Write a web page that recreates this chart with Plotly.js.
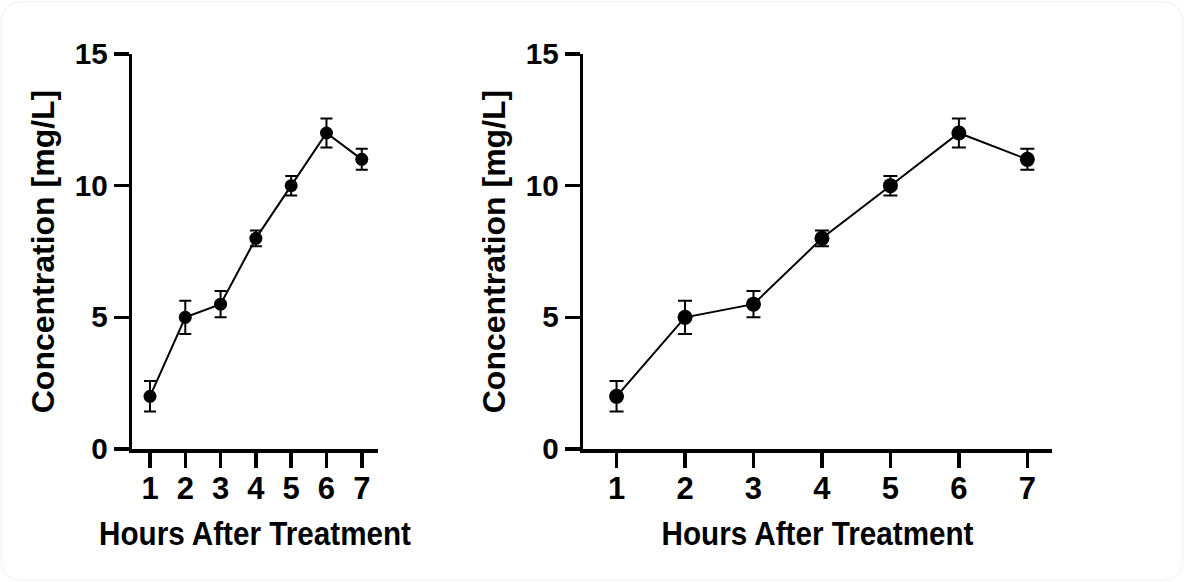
<!DOCTYPE html>
<html>
<head>
<meta charset="utf-8">
<script src="https://cdn.plot.ly/plotly-3.0.1.min.js"></script>
<style>html,body{margin:0;padding:0;background:#fff;}#chart{width:1184px;height:582px;}</style>
</head>
<body>
<div id="chart"></div>
<script>
const hours = [1, 2, 3, 4, 5, 6, 7];
const concentration = [2, 5, 5.5, 8, 10, 12, 11];
const errorSD = [0.58, 0.63, 0.5, 0.3, 0.37, 0.55, 0.4];
const yTicks = [0, 5, 10, 15];
const xTitle = 'Hours After Treatment';
const yTitle = 'Concentration [mg/L]';

const FONT = 'Liberation Sans, Arial, sans-serif';

function trace(xa, ya, msize, capw) {
  return {
    x: hours, y: concentration, xaxis: xa, yaxis: ya,
    type: 'scatter', mode: 'lines+markers',
    line: {color: '#000', width: 2},
    marker: {color: '#000', size: msize},
    error_y: {type: 'data', array: errorSD, visible: true, color: '#000', thickness: 2, width: capw},
    showlegend: false, hoverinfo: 'skip'
  };
}

function xax(domain, range, anchor) {
  return {
    domain: domain, range: range, anchor: anchor,
    showline: true, linewidth: 3.5, linecolor: '#000',
    ticks: 'outside', ticklen: 15, tickwidth: 3.5, tickcolor: '#000',
    tickvals: hours, ticktext: hours.map(function (h) { return '<b>' + h + '</b>'; }),
    tickfont: {family: FONT, size: 31, color: '#000'},
    ticklabelstandoff: -6,
    showgrid: false, zeroline: false, fixedrange: true,
    title: {text: '<b>' + xTitle + '</b>', font: {family: FONT, size: 33, color: '#000'}, standoff: 18}
  };
}
function yax(domain, anchor) {
  return {
    domain: domain, range: [0, 15], anchor: anchor,
    showline: true, linewidth: 3.5, linecolor: '#000',
    ticks: 'outside', ticklen: 15, tickwidth: 3.5, tickcolor: '#000',
    tickvals: yTicks, ticktext: yTicks.map(function (v) { return '<b>' + v + '</b>'; }),
    tickfont: {family: FONT, size: 29, color: '#000'},
    showgrid: false, zeroline: false, fixedrange: true,
    title: {text: '<b>' + yTitle + '</b>', font: {family: FONT, size: 32, color: '#000'}, standoff: 12}
  };
}

const yDom = [1 - 449/582, 1 - 54/582];
const layout = {
  width: 1184, height: 582,
  margin: {l: 0, r: 0, t: 0, b: 0},
  paper_bgcolor: '#fff', plot_bgcolor: '#fff',
  xaxis: xax([132/1184, 378/1184], [0.49, 7.46], 'y'),
  yaxis: yax(yDom, 'x'),
  xaxis2: xax([583/1184, 1052/1184], [0.51, 7.36], 'y2'),
  yaxis2: yax(yDom, 'x2'),
  shapes: [{type: 'path', xref: 'paper', yref: 'paper', layer: 'below',
    path: 'M 0.02,0.003 L 0.98,0.003 Q 0.999,0.003 0.999,0.04 L 0.999,0.96 Q 0.999,0.997 0.98,0.997 L 0.02,0.997 Q 0.001,0.997 0.001,0.96 L 0.001,0.04 Q 0.001,0.003 0.02,0.003 Z',
    line: {color: '#f0f0f0', width: 1}}]
};

Plotly.newPlot('chart', [trace('x', 'y', 13, 6), trace('x2', 'y2', 15, 7)], layout, {staticPlot: true, displayModeBar: false})
  .then(function (gd) {
    gd.querySelectorAll('.g-xtitle text, .g-x2title text').forEach(function (t) {
      t.setAttribute('textLength', '312');
      t.setAttribute('lengthAdjust', 'spacingAndGlyphs');
    });
    gd.querySelectorAll('.ytick text, .y2tick text').forEach(function (t) {
      const n = (t.textContent || '').length;
      t.setAttribute('textLength', String(n * 16.5));
      t.setAttribute('lengthAdjust', 'spacingAndGlyphs');
    });
  });
</script>
</body>
</html>
